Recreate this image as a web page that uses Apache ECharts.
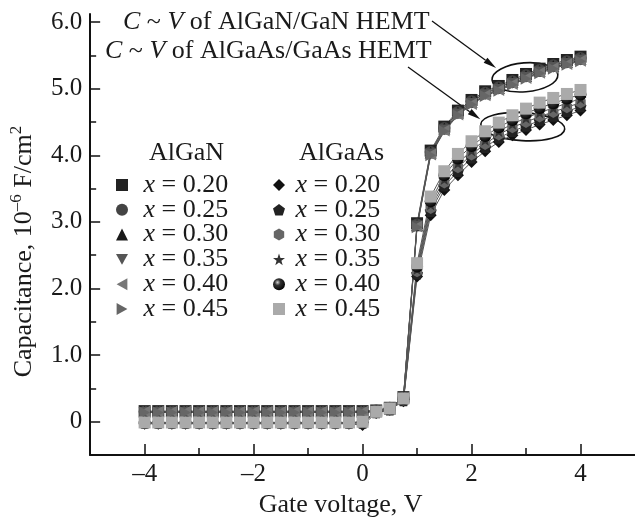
<!DOCTYPE html>
<html>
<head>
<meta charset="utf-8">
<script src="https://cdn.jsdelivr.net/npm/echarts@6/dist/echarts.min.js"></script>
<style>
  html, body { margin: 0; padding: 0; background: #fff; }
  #chart { width: 635px; height: 523px; }
</style>
</head>
<body>
<div id="chart"></div>
<script>
// gate voltage, V (step 0.25)
const voltage = [-4, -3.75, -3.5, -3.25, -3, -2.75, -2.5, -2.25, -2, -1.75, -1.5, -1.25, -1, -0.75, -0.5, -0.25,
    0, 0.25, 0.5, 0.75, 1, 1.25, 1.5, 1.75, 2, 2.25, 2.5, 2.75, 3, 3.25, 3.5, 3.75, 4];

// capacitance, 10^-6 F/cm^2 -- AlGaN/GaN HEMT
const algan_020 = [0.16, 0.16, 0.16, 0.16, 0.16, 0.16, 0.16, 0.16, 0.16, 0.16, 0.16, 0.16, 0.16, 0.16, 0.16, 0.16,
    0.16, 0.17, 0.21, 0.37, 2.98, 4.07, 4.43, 4.67, 4.83, 4.96, 5.04, 5.13, 5.22, 5.30, 5.37, 5.43, 5.48];
const algan_025 = [0.15, 0.15, 0.15, 0.15, 0.15, 0.15, 0.15, 0.15, 0.15, 0.15, 0.15, 0.15, 0.15, 0.15, 0.15, 0.15,
    0.15, 0.17, 0.21, 0.36, 2.96, 4.05, 4.41, 4.65, 4.81, 4.94, 5.02, 5.11, 5.20, 5.28, 5.35, 5.41, 5.46];
const algan_030 = [0.15, 0.15, 0.15, 0.15, 0.15, 0.15, 0.15, 0.15, 0.15, 0.15, 0.15, 0.15, 0.15, 0.15, 0.15, 0.15,
    0.15, 0.16, 0.20, 0.36, 2.95, 4.04, 4.40, 4.64, 4.80, 4.93, 5.01, 5.10, 5.19, 5.27, 5.34, 5.40, 5.45];
const algan_035 = [0.14, 0.14, 0.14, 0.14, 0.14, 0.14, 0.14, 0.14, 0.14, 0.14, 0.14, 0.14, 0.14, 0.14, 0.14, 0.14,
    0.14, 0.16, 0.20, 0.35, 2.94, 4.02, 4.38, 4.62, 4.78, 4.91, 4.99, 5.08, 5.17, 5.25, 5.32, 5.38, 5.43];
const algan_040 = [0.15, 0.15, 0.15, 0.15, 0.15, 0.15, 0.15, 0.15, 0.15, 0.15, 0.15, 0.15, 0.15, 0.15, 0.15, 0.15,
    0.15, 0.16, 0.20, 0.35, 2.93, 4.01, 4.37, 4.61, 4.77, 4.90, 4.98, 5.07, 5.16, 5.24, 5.31, 5.37, 5.42];
const algan_045 = [0.14, 0.14, 0.14, 0.14, 0.14, 0.14, 0.14, 0.14, 0.14, 0.14, 0.14, 0.14, 0.14, 0.14, 0.14, 0.14,
    0.14, 0.15, 0.19, 0.34, 2.92, 4.00, 4.36, 4.60, 4.76, 4.89, 4.97, 5.06, 5.15, 5.23, 5.30, 5.36, 5.41];

// capacitance, 10^-6 F/cm^2 -- AlGaAs/GaAs HEMT
const algaas_020 = [-0.03, -0.03, -0.03, -0.03, -0.03, -0.03, -0.03, -0.03, -0.03, -0.03, -0.03, -0.03, -0.03, -0.03, -0.03, -0.03,
    -0.05, 0.13, 0.18, 0.31, 2.18, 3.10, 3.48, 3.70, 3.90, 4.06, 4.20, 4.30, 4.38, 4.46, 4.53, 4.60, 4.67];
const algaas_025 = [-0.02, -0.02, -0.02, -0.02, -0.02, -0.02, -0.02, -0.02, -0.02, -0.02, -0.02, -0.02, -0.02, -0.02, -0.02, -0.02,
    -0.02, 0.14, 0.18, 0.32, 2.22, 3.16, 3.54, 3.76, 3.96, 4.12, 4.26, 4.36, 4.44, 4.52, 4.59, 4.66, 4.73];
const algaas_030 = [-0.02, -0.02, -0.02, -0.02, -0.02, -0.02, -0.02, -0.02, -0.02, -0.02, -0.02, -0.02, -0.02, -0.02, -0.02, -0.02,
    -0.01, 0.14, 0.19, 0.33, 2.26, 3.21, 3.59, 3.82, 4.01, 4.17, 4.31, 4.42, 4.50, 4.58, 4.65, 4.72, 4.79];
const algaas_035 = [-0.01, -0.01, -0.01, -0.01, -0.01, -0.01, -0.01, -0.01, -0.01, -0.01, -0.01, -0.01, -0.01, -0.01, -0.01, -0.01,
    -0.01, 0.14, 0.19, 0.33, 2.29, 3.26, 3.64, 3.88, 4.07, 4.23, 4.36, 4.47, 4.56, 4.64, 4.71, 4.78, 4.85];
const algaas_040 = [-0.02, -0.02, -0.02, -0.02, -0.02, -0.02, -0.02, -0.02, -0.02, -0.02, -0.02, -0.02, -0.02, -0.02, -0.02, -0.02,
    -0.01, 0.15, 0.20, 0.34, 2.33, 3.31, 3.70, 3.95, 4.14, 4.29, 4.42, 4.53, 4.63, 4.71, 4.78, 4.85, 4.91];
const algaas_045 = [-0.01, -0.01, -0.01, -0.01, -0.01, -0.01, -0.01, -0.01, -0.01, -0.01, -0.01, -0.01, -0.01, -0.01, -0.01, -0.01,
    0.00, 0.15, 0.20, 0.35, 2.38, 3.38, 3.76, 4.02, 4.21, 4.36, 4.49, 4.60, 4.70, 4.79, 4.86, 4.92, 4.98];

const x_ticks = [-4, -2, 0, 2, 4];
const x_minor_ticks = [-3, -1, 1, 3];
const y_ticks = [0, 1, 2, 3, 4, 5, 6];
const y_minor_ticks = [0.5, 1.5, 2.5, 3.5, 4.5, 5.5];

const FONT = 'Liberation Serif';
const INK = '#1a1a1a';

const sphere = {
    type: 'radial', x: 0.38, y: 0.35, r: 0.7,
    colorStops: [{offset: 0, color: '#d0d0d0'}, {offset: 0.35, color: '#333'}, {offset: 1, color: '#000'}]
};

const P_DOWN = 'path://M0,0L10,0L5,9z';
const P_LEFT = 'path://M0,5L9,0L9,10z';
const P_RIGHT = 'path://M0,0L9,5L0,10z';
const P_PENT = 'path://M5,0L10,3.6L8.1,9.5L1.9,9.5L0,3.6z';
const P_HEX = 'path://M5,0L9.33,2.5L9.33,7.5L5,10L0.67,7.5L0.67,2.5z';
const P_STAR = 'path://M5,0L6.18,3.6L9.76,3.6L6.9,5.8L7.94,9.3L5,7.2L2.06,9.3L3.1,5.8L0.24,3.6L3.82,3.6z';

function gen_series(name, values, symbol, color) {
    return {
        name: name,
        type: 'line',
        data: voltage.map((v, i) => [v, values[i]]),
        symbol: symbol,
        symbolSize: 12,
        symbolKeepAspect: true,
        itemStyle: {color: color},
        lineStyle: {color: '#555', width: 1},
        emphasis: {disabled: true},
        animation: false
    };
}

const algan_list = [
    ['AlGaN 0.20', algan_020, 'rect', '#222'],
    ['AlGaN 0.25', algan_025, 'circle', '#444'],
    ['AlGaN 0.30', algan_030, 'triangle', '#1a1a1a'],
    ['AlGaN 0.35', algan_035, P_DOWN, '#555'],
    ['AlGaN 0.40', algan_040, P_LEFT, '#777'],
    ['AlGaN 0.45', algan_045, P_RIGHT, '#666'],
];
const algaas_list = [
    ['AlGaAs 0.20', algaas_020, 'diamond', '#111'],
    ['AlGaAs 0.25', algaas_025, P_PENT, '#222'],
    ['AlGaAs 0.30', algaas_030, P_HEX, '#666'],
    ['AlGaAs 0.35', algaas_035, P_STAR, '#333'],
    ['AlGaAs 0.40', algaas_040, 'circle', sphere],
    ['AlGaAs 0.45', algaas_045, 'rect', '#aaa'],
];

let series = [];
algan_list.forEach(s => series.push(gen_series(s[0], s[1], s[2], s[3])));
algaas_list.forEach(s => series.push(gen_series(s[0], s[1], s[2], s[3])));

function gen_legend(list, left, text_pad) {
    return {
        orient: 'vertical',
        left: left,
        top: 167,
        itemWidth: 12,
        itemHeight: 12,
        itemGap: -1.2,
        selectedMode: false,
        data: list.map(s => ({name: s[0], icon: s[2]})),
        formatter: name => '{i|x} = ' + name.split(' ')[1],
        textStyle: {
            fontFamily: FONT, fontSize: 26, color: INK, lineHeight: 24, padding: [0, 0, 0, text_pad],
            rich: {i: {fontFamily: FONT, fontSize: 26, fontStyle: 'italic', color: INK, lineHeight: 24}}
        }
    };
}

const axis_font = {fontFamily: FONT, fontSize: 25, color: INK};

let option = {
    animation: false,
    grid: {left: 90, right: 0, top: 14, bottom: 64, containLabel: false},
    legend: [gen_legend(algan_list, 111, 10.5), gen_legend(algaas_list, 268, 5.5)],
    xAxis: [{
        type: 'value', min: -5, max: 5, interval: 1,
        position: 'bottom',
        axisLine: {onZero: false, lineStyle: {color: '#111', width: 2}},
        axisTick: {inside: true, length: 11, customValues: x_ticks, lineStyle: {color: '#111', width: 1.5}},
        axisLabel: Object.assign({customValues: x_ticks, margin: 7,
            formatter: v => (v < 0 ? '\u2013' + Math.abs(v) : String(v))}, axis_font),
        splitLine: {show: false},
        name: 'Gate voltage, V',
        nameLocation: 'middle',
        nameGap: 29,
        nameTextStyle: Object.assign({padding: [0, 44, 0, 0]}, axis_font, {fontSize: 26})
    }, {
        type: 'value', min: -5, max: 5, interval: 1,
        position: 'bottom',
        axisLine: {show: false, onZero: false},
        axisTick: {inside: true, length: 7, customValues: x_minor_ticks, lineStyle: {color: '#111', width: 1.5}},
        axisLabel: {show: false},
        splitLine: {show: false}
    }],
    yAxis: [{
        type: 'value', min: -0.5, max: 6.12, interval: 0.5,
        position: 'left',
        axisLine: {onZero: false, lineStyle: {color: '#111', width: 2}},
        axisTick: {inside: true, length: 10, customValues: y_ticks, lineStyle: {color: '#111', width: 1.5}},
        axisLabel: Object.assign({customValues: y_ticks, margin: 8,
            formatter: v => (v === 0 ? '0' : v.toFixed(1))}, axis_font),
        splitLine: {show: false},
        name: 'Capacitance, 10{sup|\u20136} F/cm{sup|2}',
        nameLocation: 'middle',
        nameGap: 44,
        nameTextStyle: Object.assign({}, axis_font, {
            fontSize: 26, lineHeight: 32, padding: [0, 34, 0, 0],
            rich: {sup: {fontFamily: FONT, fontSize: 17, color: INK, verticalAlign: 'top'}}
        })
    }, {
        type: 'value', min: -0.5, max: 6.12, interval: 0.5,
        position: 'left',
        axisLine: {show: false, onZero: false},
        axisTick: {inside: true, length: 6, customValues: y_minor_ticks, lineStyle: {color: '#111', width: 1.5}},
        axisLabel: {show: false},
        splitLine: {show: false}
    }],
    series: series
};

let chart = echarts.init(document.getElementById('chart'), null, {renderer: 'canvas'});
chart.setOption(option);

// annotations: headers, captions, arrows and ellipses
function arrow(p1, p2) {
    let ang = Math.atan2(p2[1] - p1[1], p2[0] - p1[0]);
    let L = 13, W = 3.2;
    let bx = p2[0] - L * Math.cos(ang), by = p2[1] - L * Math.sin(ang);
    let nx = -Math.sin(ang) * W, ny = Math.cos(ang) * W;
    return [
        {type: 'line', shape: {x1: p1[0], y1: p1[1], x2: bx, y2: by}, style: {stroke: '#111', lineWidth: 1.3}},
        {type: 'polygon', shape: {points: [p2, [bx + nx, by + ny], [bx - nx, by - ny]]}, style: {fill: '#111'}}
    ];
}

const caption_rich = {i: {fontFamily: FONT, fontSize: 26, fontStyle: 'italic', fill: INK}};
function caption(text, x, y) {
    return {
        type: 'text', x: x, y: y,
        style: {text: text, fontFamily: FONT, fontSize: 26, fill: INK, verticalAlign: 'middle', rich: caption_rich}
    };
}

let to_px = p => chart.convertToPixel({gridIndex: 0}, p);
let e1 = to_px([2.98, 5.17]);
let e2 = to_px([2.94, 4.43]);

let graphics = [
    {type: 'text', x: 149, y: 153, style: {text: 'AlGaN', fontFamily: FONT, fontSize: 26, fill: INK, verticalAlign: 'middle'}},
    {type: 'text', x: 299, y: 153, style: {text: 'AlGaAs', fontFamily: FONT, fontSize: 26, fill: INK, verticalAlign: 'middle'}},
    caption('{i|C} ~ {i|V} of AlGaN/GaN HEMT', 123, 22),
    caption('{i|C} ~ {i|V} of AlGaAs/GaAs HEMT', 105, 51),
    {type: 'ellipse', x: e1[0], y: e1[1], rotation: 0.08, shape: {cx: 0, cy: 0, rx: 33, ry: 14.5},
        style: {fill: 'none', stroke: '#111', lineWidth: 1.6}},
    {type: 'ellipse', x: e2[0], y: e2[1], rotation: -0.06, shape: {cx: 0, cy: 0, rx: 42, ry: 14},
        style: {fill: 'none', stroke: '#111', lineWidth: 1.6}},
].concat(arrow([432, 21], to_px([2.45, 5.31])), arrow([408, 67], to_px([2.16, 4.54])));

chart.setOption({graphic: graphics});
</script>
</body>
</html>
